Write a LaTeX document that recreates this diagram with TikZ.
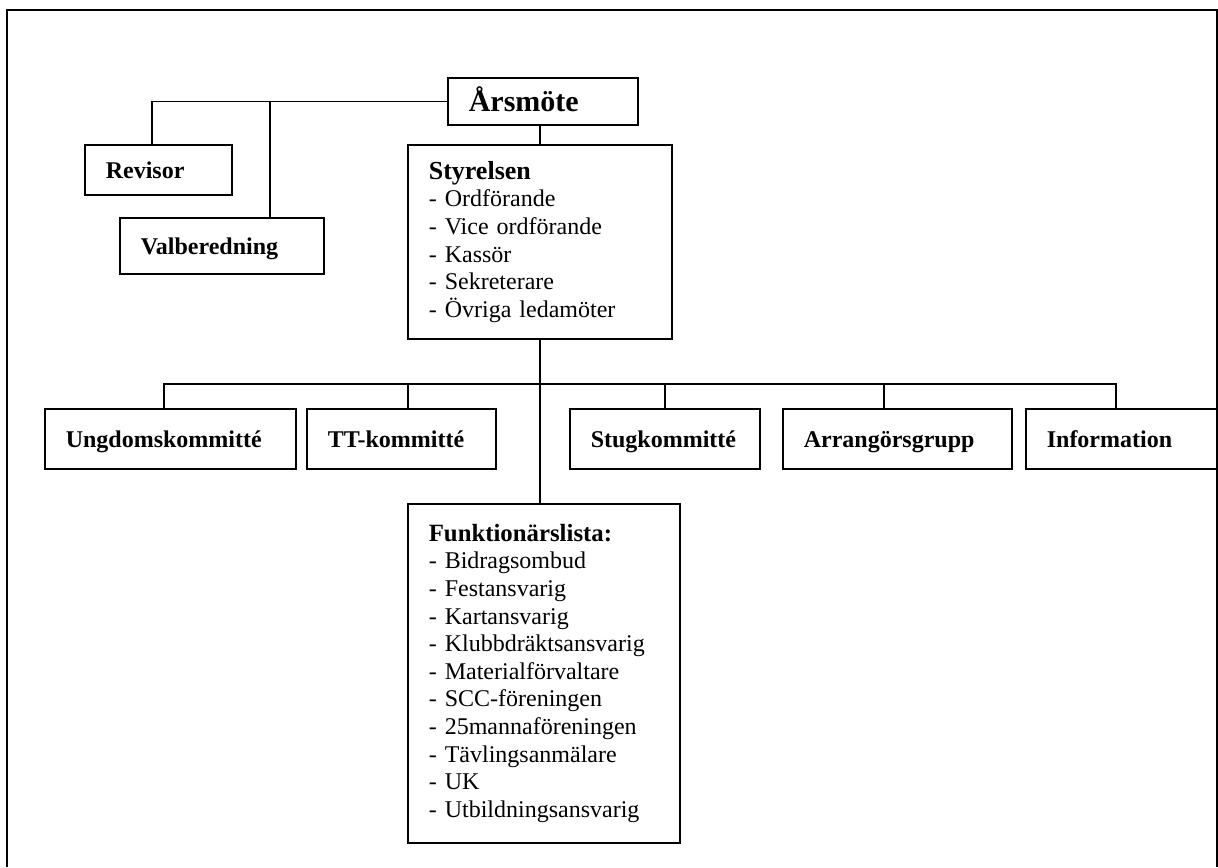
\documentclass[tikz,border=0pt]{standalone}
\usepackage{fontspec}
\setmainfont{Liberation Serif}
\begin{document}
\begin{tikzpicture}[x=0.5pt, y=-0.5pt, thick,
        box/.style = {draw, anchor=north west, inner xsep=10.5pt, inner ysep=0pt, align=left, font={\fontsize{12}{13.8}\selectfont}},
        bold/.style = {font={\fontsize{12}{13.8}\selectfont\bfseries}, text height=10pt, text depth=1.5pt}]

    \useasboundingbox (0,0) rectangle (1218,867);

    % Frame
    \draw (7,867) -- (7,10) -- (1217,10) -- (1217,867);

    % Top level
    \node[box, bold, font={\fontsize{15}{17}\selectfont\bfseries}, text height=12pt, text depth=1.5pt, text width=74pt, minimum height=23.5pt] (arsmote) at (447,77) {Årsmöte};
    \node[box, bold, text width=52.5pt, minimum height=25pt] (revisor) at (84,144) {Revisor};
    \node[box, bold, text width=81pt, minimum height=28pt] (valb) at (119,217) {Valberedning};

    % Styrelsen
    \node[box, text width=111pt, minimum height=97pt] (styrelsen) at (407,144) {{\fontsize{13}{13.8}\selectfont\bfseries Styrelsen}\\- Ordförande\\- Vice ordförande\\- Kassör\\- Sekreterare\\- Övriga ledamöter};

    % Committees
    \node[box, bold, text width=104.5pt, minimum height=30pt] (ungdom) at (44,408) {Ungdomskommitté};
    \node[box, bold, text width=73.5pt, minimum height=30pt] (tt) at (306,408) {TT-kommitté};
    \node[box, bold, text width=74pt, minimum height=30pt] (stug) at (569,408) {Stugkommitté};
    \node[box, bold, text width=93.5pt, minimum height=30pt] (arr) at (782,408) {Arrangörsgrupp};
    \node[box, bold, text width=75pt, minimum height=30pt] (info) at (1025,408) {Information};

    % Funktionärslista
    \node[box, text width=115pt, minimum height=169.5pt] (funk) at (407,503) {{\fontsize{12.4}{13.8}\selectfont\bfseries Funktionärslista:}\\- Bidragsombud\\- Festansvarig\\- Kartansvarig\\- Klubbdräktsansvarig\\- Materialförvaltare\\- SCC-föreningen\\- 25mannaföreningen\\- Tävlingsanmälare\\- UK\\- Utbildningsansvarig};

    % Lines from Årsmöte
    \draw (arsmote.west) -| ([xshift=-3.25pt]revisor.north);
    \draw ([xshift=24pt]valb.north) -- ([xshift=24pt]valb.north |- arsmote.west);
    \draw (styrelsen.north) -- (styrelsen.north |- arsmote.south);

    % Lines from Styrelsen
    \coordinate (bus) at (539,384);
    \draw (styrelsen.south) -- (styrelsen.south |- funk.north);
    \draw ([xshift=-3.25pt]ungdom.north) |- (bus) -| ([xshift=-3pt]info.north);
    \draw ([xshift=3.25pt]tt.north) -- ([xshift=3.25pt]tt.north |- bus);
    \draw (stug.north) -- (stug.north |- bus);
    \draw ([xshift=-6.75pt]arr.north) -- ([xshift=-6.75pt]arr.north |- bus);

\end{tikzpicture}
\end{document}
